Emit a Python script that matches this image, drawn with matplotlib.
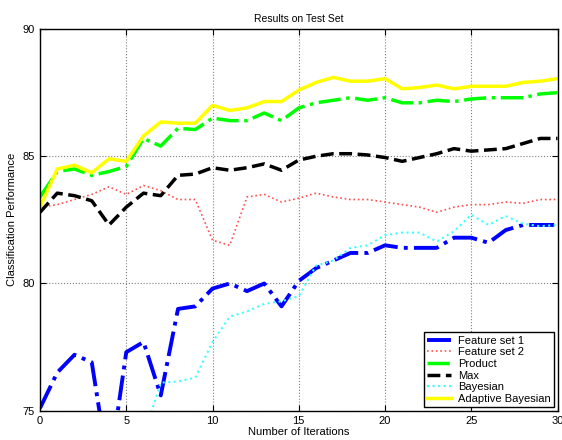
import matplotlib.pyplot as plt

plt.rcParams['font.family'] = ['Liberation Sans', 'DejaVu Sans']

iterations = list(range(31))
feature_set_1 = [75.1, 76.5, 77.2, 76.9, 72.6, 77.3, 77.7, 75.6, 79.0, 79.1, 79.8,
                 80.0, 79.7, 80.0, 79.1, 80.1, 80.6, 80.9, 81.2, 81.2, 81.5,
                 81.4, 81.4, 81.4, 81.8, 81.8, 81.6, 82.1, 82.3, 82.3, 82.3]
feature_set_2 = [83.0, 83.1, 83.3, 83.5, 83.8, 83.5, 83.85, 83.65, 83.3, 83.3, 81.7,
                 81.5, 83.4, 83.5, 83.2, 83.35, 83.55, 83.4, 83.3, 83.3, 83.2,
                 83.1, 83.0, 82.8, 83.0, 83.1, 83.1, 83.2, 83.15, 83.3, 83.3]
product = [83.4, 84.4, 84.5, 84.25, 84.4, 84.6, 85.7, 85.4, 86.1, 86.05, 86.5,
           86.4, 86.4, 86.7, 86.4, 86.9, 87.1, 87.2, 87.3, 87.2, 87.3,
           87.1, 87.1, 87.2, 87.15, 87.25, 87.3, 87.3, 87.3, 87.45, 87.5]
max_rule = [82.8, 83.55, 83.45, 83.25, 82.3, 83.0, 83.55, 83.45, 84.25, 84.3, 84.55,
            84.45, 84.55, 84.7, 84.45, 84.85, 85.0, 85.1, 85.1, 85.05, 84.95,
            84.8, 84.95, 85.1, 85.3, 85.2, 85.25, 85.3, 85.5, 85.7, 85.7]
bayesian = [72.0, 72.5, 73.0, 72.8, 73.2, 73.5, 74.0, 76.1, 76.15, 76.3, 77.7,
            78.7, 78.9, 79.2, 79.3, 79.5, 80.7, 80.9, 81.4, 81.5, 81.9,
            82.0, 82.0, 81.65, 82.05, 82.7, 82.3, 82.65, 82.35, 82.25, 82.3]
adaptive_bayesian = [83.0, 84.5, 84.65, 84.35, 84.9, 84.8, 85.8, 86.35, 86.3, 86.3, 87.0,
                     86.8, 86.9, 87.15, 87.15, 87.6, 87.9, 88.1, 87.95, 87.95, 88.05,
                     87.65, 87.7, 87.8, 87.65, 87.75, 87.75, 87.75, 87.9, 87.95, 88.05]

fig = plt.figure(figsize=(5.62, 4.4), dpi=100)
ax = fig.add_axes([0.0712, 0.0666, 0.9208, 0.8674])

ax.plot(iterations, feature_set_1, color='#0000ff', linestyle='-.', linewidth=2.8, label='Feature set 1')
ax.plot(iterations, feature_set_2, color='#ff5050', linestyle=':', linewidth=1.2, label='Feature set 2')
ax.plot(iterations, product, color='#00ff00', linestyle='-.', linewidth=2.5, label='Product')
ax.plot(iterations, max_rule, color='black', linestyle='--', linewidth=2.5, label='Max')
ax.plot(iterations, bayesian, color='#40ffff', linestyle=':', linewidth=1.5, label='Bayesian')
ax.plot(iterations, adaptive_bayesian, color='#ffff00', linestyle='-', linewidth=2.5, label='Adaptive Bayesian')

ax.set_xlim(0, 30)
ax.set_ylim(75, 90)
ax.set_xticks([0, 5, 10, 15, 20, 25, 30])
ax.set_yticks([75, 80, 85, 90])
ax.grid(True, linestyle=':', color='#808080', linewidth=0.8)
ax.tick_params(direction='in', top=True, right=True, labelsize=8, length=4)
for s in ax.spines.values():
    s.set_linewidth(1.0)

ax.set_title('Results on Test Set', fontsize=7.5, pad=5)
ax.set_xlabel('Number of Iterations', fontsize=8, labelpad=1)
ax.set_ylabel('Classification Performance', fontsize=8, labelpad=4)

leg = ax.legend(loc='lower right', fontsize=8, fancybox=False, framealpha=1,
                edgecolor='black', handlelength=2.2, labelspacing=0.15,
                borderpad=0.3, handletextpad=0.6, borderaxespad=0.3)
leg.get_frame().set_linewidth(1.0)

plt.savefig('out.png')
